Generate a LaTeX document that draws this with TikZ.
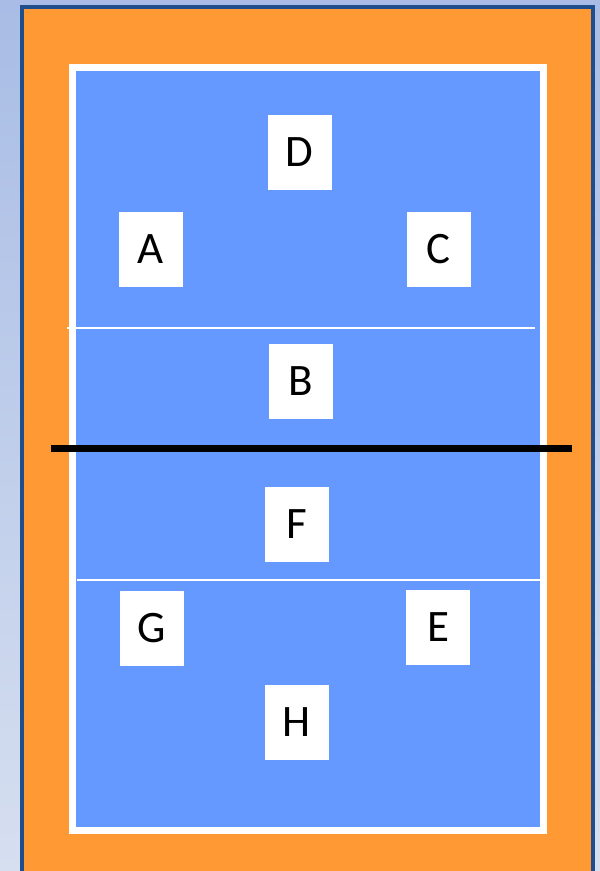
\documentclass[tikz,border=0pt]{standalone}
\usepackage{fontspec}
\setmainfont{Carlito}
\definecolor{courtblue}{HTML}{6699FF}
\definecolor{zoneorange}{HTML}{FF9933}
\definecolor{frameblue}{HTML}{1F4E8C}
\definecolor{bgtop}{HTML}{A8BCE5}
\definecolor{bgbottom}{HTML}{D6DFF0}
\begin{document}
\begin{tikzpicture}[x=1pt,y=-1pt,
  player/.style={fill=white, minimum width=64pt, minimum height=75pt, inner sep=0pt, font=\fontsize{45}{45}\selectfont}]
\useasboundingbox (0,0) rectangle (600,871);
\clip (0,0) rectangle (600,871);
\shade[top color=bgtop, bottom color=bgbottom] (0,0) rectangle (600,871);

% free zone and court
\draw[frameblue, line width=4pt, fill=zoneorange] (22,7) rectangle (593,890);
\draw[white, line width=7pt, fill=courtblue] (72.5,67.5) rectangle (543.5,830);
\draw[white, line width=2.5pt] (67,328) -- (535,328);
\draw[white, line width=2.5pt] (77,580) -- (540,580);

% net
\draw[black, line width=7pt] (51,448) -- (572,448);

% players
\node[player] (posD) at (299.5,152.5) {D};
\node[player] (posA) at (151,249.5) {A};
\node[player] (posC) at (438.5,249.5) {C};
\node[player] (posB) at (300.5,381) {B};
\node[player] (posF) at (296.5,524) {F};
\node[player] (posG) at (152,628) {G};
\node[player] (posE) at (438,627.5) {E};
\node[player] (posH) at (296.5,722) {H};
\end{tikzpicture}
\end{document}
